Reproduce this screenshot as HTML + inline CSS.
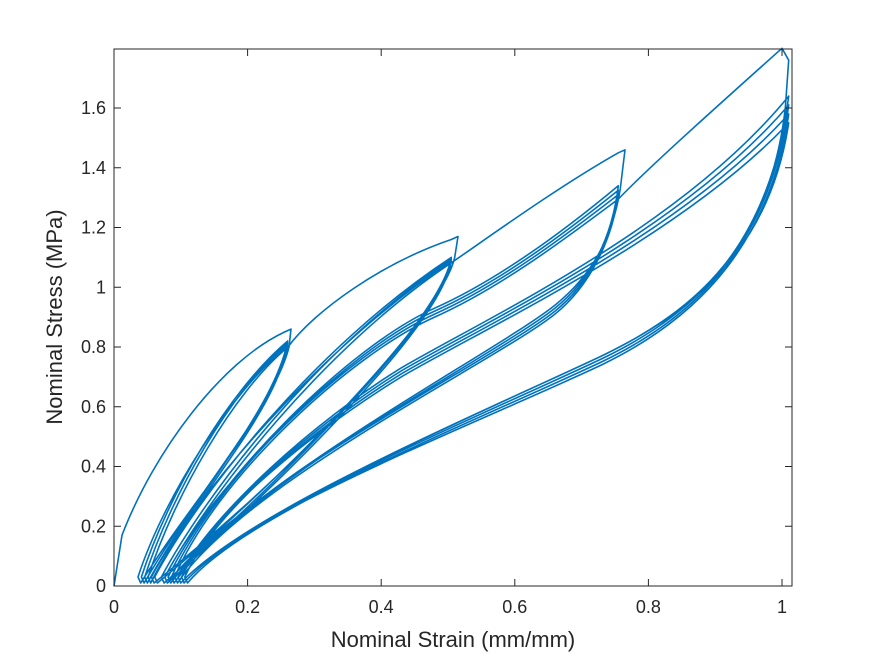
<!DOCTYPE html>
<html><head><meta charset="utf-8"><style>
body{margin:0;background:#fff;}
svg{display:block;font-family:"Liberation Sans",Arial,sans-serif;}
</style></head><body>
<svg id="s" width="875" height="656" viewBox="0 0 875 656" xmlns="http://www.w3.org/2000/svg">
<rect width="875" height="656" fill="#fff"/>
<g id="curves" fill="none" stroke="#0072BD" stroke-width="1.6" stroke-linejoin="round"></g>
<rect x="114" y="49" width="678" height="537" fill="none" stroke="#262626" stroke-width="1"/>
<g stroke="#262626" stroke-width="1" id="ticks"></g>
<g font-size="18" fill="#262626" id="labels"></g>
<text x="453" y="647" font-size="22" text-anchor="middle" fill="#262626">Nominal Strain (mm/mm)</text>
<text transform="translate(62,317) rotate(-90)" font-size="22" text-anchor="middle" fill="#262626">Nominal Stress (MPa)</text>
</svg>
<script>
var X=function(s){return 114+668*s}, Y=function(v){return 586-298.75*v};
var ns="http://www.w3.org/2000/svg";
var t=document.getElementById('ticks'),L=document.getElementById('labels');
function el(n,a,p,txt){var e=document.createElementNS(ns,n);for(var k in a)e.setAttribute(k,a[k]);if(txt)e.textContent=txt;p.appendChild(e);}
[0,0.2,0.4,0.6,0.8,1].forEach(function(v){var x=X(v);el('line',{x1:x,y1:586,x2:x,y2:579},t);el('line',{x1:x,y1:49,x2:x,y2:56},t);el('text',{x:x,y:613,'text-anchor':'middle'},L,String(v));});
[0,0.2,0.4,0.6,0.8,1,1.2,1.4,1.6].forEach(function(v){var y=Y(v);el('line',{x1:114,y1:y,x2:121,y2:y},t);el('line',{x1:792,y1:y,x2:785,y2:y},t);el('text',{x:106,y:y+6,'text-anchor':'end'},L,String(v));});
var d="";
function P(s,v){return X(s).toFixed(1)+","+Y(v).toFixed(1);}
function M(s,v){d+="M"+P(s,v);} function Lt(s,v){d+="L"+P(s,v);}
function C(a,b,c,e,f,g){d+="C"+P(a,b)+" "+P(c,e)+" "+P(f,g);}
// group1
M(0,0);Lt(0.012,0.17);C(0.06,0.45,0.16,0.75,0.255,0.85);Lt(0.265,0.86);Lt(0.262,0.8);
[0.045,0.05,0.04,0.055].forEach(function(r,i){
  C(0.24,0.6-0.01*i,0.12,0.3,r,0.01);Lt(r-0.004,0.03);
  C(r+0.035,0.3,0.17+0.003*i,0.65,0.26,0.82-0.007*i);});
// group2 virgin
C(0.3,0.92,0.4,1.08,0.505,1.16);Lt(0.515,1.17);Lt(0.51,1.1);
[0.065,0.075,0.06,0.08].forEach(function(r,i){
  C(0.49,0.9-0.01*i,0.25,0.35,r,0.01);Lt(r-0.004,0.03);
  C(r+0.06,0.3,0.3+0.005*i,0.8,0.505,1.1-0.006*i);});
// group3
C(0.55,1.15,0.66,1.33,0.755,1.45);Lt(0.765,1.46);Lt(0.758,1.33);
[0.085,0.09,0.08,0.095].forEach(function(r,i){
  C(0.745,1.15,0.71,1.03-0.01*i,0.66,0.94-0.01*i);C(0.57,0.78-0.01*i,0.2,0.35,r,0.01);Lt(r-0.004,0.03);
  C(0.15,0.35,0.35,0.8-0.01*i,0.48,0.93-0.01*i);C(0.58,1.03-0.01*i,0.68,1.2-0.01*i,0.755,1.34-0.015*i);});
// group4
C(0.8,1.4,0.9,1.6,0.995,1.79);Lt(1.0,1.8);Lt(1.01,1.76);Lt(1.005,1.6);
[0.1,0.105,0.11,0.1].forEach(function(r,i){
  C(0.98,1.1,0.85,0.9-0.01*i,0.73,0.77-0.01*i);C(0.55,0.58-0.01*i,0.2,0.25,r,0.01);Lt(r-0.004,0.03);
  C(0.15,0.25,0.3,0.55-0.01*i,0.43,0.73-0.01*i);C(0.56,0.9-0.01*i,0.85,1.2-0.01*i,1.01,1.64-0.03*i);});
C(0.98,1.1,0.85,0.9,0.73,0.77);C(0.55,0.58,0.2,0.25,0.11,0.01);
el('path',{d:d},document.getElementById('curves'));
</script>
</body></html>
